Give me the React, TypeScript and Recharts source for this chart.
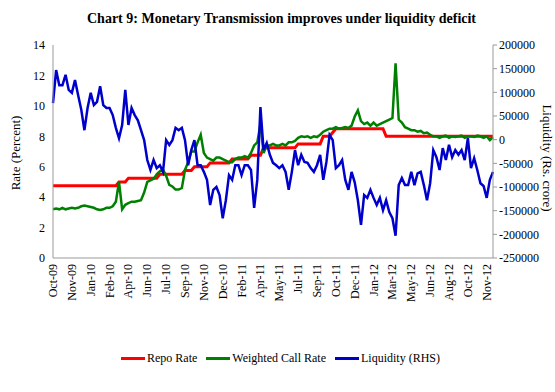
import { LineChart, Line, XAxis, YAxis } from "recharts";

const CATEGORY_LABELS = [
  "Oct-09", "Nov-09", "Jan-10", "Feb-10", "Apr-10", "Jun-10", "Jul-10", "Sep-10",
  "Nov-10", "Dec-10", "Feb-11", "Apr-11", "May-11", "Jul-11", "Sep-11", "Oct-11",
  "Dec-11", "Jan-12", "Mar-12", "May-12", "Jun-12", "Aug-12", "Oct-12", "Nov-12",
];

// repo rate, percent
const REPO_RATE = [
  4.75, 4.75, 4.75, 4.75, 4.75, 4.75, 4.75, 4.75, 4.75, 4.75, 4.75, 4.75, 4.75, 4.75, 4.75, 4.75, 4.75, 4.75, 4.75, 4.75, 4.75,
  5.0, 5.0, 5.0,
  5.25, 5.25, 5.25, 5.25, 5.25, 5.25, 5.25, 5.25, 5.25, 5.25,
  5.5, 5.5, 5.5, 5.5, 5.5, 5.5, 5.5, 5.5,
  5.75, 5.75, 5.75,
  6.0, 6.0, 6.0, 6.0, 6.0,
  6.25, 6.25, 6.25, 6.25, 6.25, 6.25, 6.25,
  6.5, 6.5, 6.5, 6.5, 6.5, 6.5,
  6.75, 6.75, 6.75, 6.75,
  7.25, 7.25, 7.25, 7.25, 7.25, 7.25, 7.25, 7.25, 7.25, 7.25, 7.25,
  7.5, 7.5, 7.5, 7.5, 7.5, 7.5, 7.5, 7.5,
  8.0, 8.0, 8.0,
  8.25,
  8.5, 8.5, 8.5, 8.5, 8.5, 8.5, 8.5, 8.5, 8.5, 8.5, 8.5, 8.5, 8.5, 8.5, 8.5, 8.5,
  8.0, 8.0, 8.0, 8.0, 8.0, 8.0, 8.0, 8.0, 8.0, 8.0, 8.0, 8.0, 8.0, 8.0, 8.0, 8.0, 8.0, 8.0,
  8.0, 8.0, 8.0, 8.0, 8.0, 8.0, 8.0, 8.0, 8.0, 8.0, 8.0, 8.0, 8.0, 8.0, 8.0, 8.0, 8.0,
];

// weighted average call rate, percent
const CALL_RATE = [
  3.2, 3.25, 3.2, 3.3, 3.2, 3.25, 3.3, 3.25, 3.3, 3.4, 3.45,
  3.4, 3.35, 3.3, 3.2, 3.15, 3.2, 3.3, 3.3, 3.4,
  3.7, 5.0, 3.2, 3.5, 3.6, 3.7, 3.7, 3.75, 3.8, 4.3,
  5.0, 5.1, 5.2, 5.5, 5.7, 5.8, 5.4, 4.8, 4.7, 4.5,
  4.5, 4.6, 5.8, 6.3, 7.0, 7.0, 7.6, 8.1, 6.9, 6.6,
  6.5, 6.4, 6.6, 6.6, 6.5, 6.4, 6.3, 6.3, 6.5, 6.6,
  6.6, 6.7, 6.6, 6.9, 7.4, 7.6, 8.8, 6.9, 7.4, 7.4,
  7.5, 7.4, 7.4, 7.5, 7.4, 7.6, 7.6, 7.7, 7.9, 8.0,
  7.95, 8.0, 7.9, 8.0, 7.95, 8.1, 8.3, 8.4, 8.5, 8.5,
  8.6, 8.5, 8.55, 8.6, 8.55, 8.7, 9.3, 9.7, 9.0, 8.8,
  8.9, 8.7, 8.9, 8.7, 8.8, 8.9, 9.0, 9.1, 9.2, 12.8,
  9.1, 8.9, 8.6, 8.5, 8.4, 8.4, 8.3, 8.35, 8.2, 8.25,
  8.1, 8.0, 8.0, 7.9, 8.0, 8.05, 7.9, 8.0, 7.95, 8.0,
  8.05, 7.9, 8.0, 8.0, 7.95, 8.05, 8.0, 7.9, 8.0, 7.75,
  7.95,
];

// liquidity, Rs. crore (right axis)
const LIQUIDITY = [
  77000, 147000, 115000, 115000, 137000, 105000, 99000, 126000, 94000, 63000,
  20000, 67000, 99000, 73000, 80000, 113000, 73000, 67000, 67000, 52000,
  25000, 3000, 31000, 105000, 31000, 67000, 52000, 41000, 20000, -1000,
  -43000, -64000, -43000, -60000, -54000, -68000, -1000, -11000, -1000, 25000,
  20000, 25000, -1000, -54000, -22000, -1000, -54000, -54000, -68000, -85000,
  -138000, -106000, -100000, -117000, -166000, -128000, -75000, -85000, -54000, -54000,
  -75000, -54000, -54000, -64000, -144000, -85000, 69000, -22000, -7000, -32000,
  -49000, -54000, -60000, -54000, -68000, -106000, -68000, -22000, -54000, -32000,
  -47000, -49000, -60000, -68000, -54000, -32000, -85000, -47000, 10000, -1000,
  -60000, -54000, -43000, -85000, -106000, -68000, -90000, -128000, -180000, -117000,
  -123000, -106000, -123000, -138000, -123000, -149000, -128000, -153000, -166000, -203000,
  -96000, -81000, -96000, -96000, -68000, -96000, -71000, -68000, -96000, -128000,
  -92000, -22000, -37000, -64000, -18000, -43000, -11000, -37000, -22000, -32000,
  -22000, -43000, 3000, -60000, -39000, -64000, -92000, -98000, -123000, -85000,
  -68000,
];

const LEFT_TICKS = [0, 2, 4, 6, 8, 10, 12, 14];
const RIGHT_TICKS = [-250000, -200000, -150000, -100000, -50000, 0, 50000, 100000, 150000, 200000];

const data = REPO_RATE.map((repo, i) => ({
  i,
  repo,
  call: CALL_RATE[i],
  liq: LIQUIDITY[i],
}));
const xTicks = CATEGORY_LABELS.map((_, k) => k * 6);

const FONT = '"Liberation Serif", "Times New Roman", serif';

const renderXTick = ({ x, y, payload }: any) => (
  <g transform={`translate(${x},${y})`}>
    <text
      x={-4}
      y={0}
      dy={4}
      textAnchor="end"
      transform="rotate(-90)"
      fontSize={12}
      fontFamily={FONT}
      fill="#000"
    >
      {CATEGORY_LABELS[Math.round(payload.value / 6)]}
    </text>
  </g>
);

const legendItems = [
  { name: "Repo Rate", color: "#ff0000" },
  { name: "Weighted Call Rate", color: "#008000" },
  { name: "Liquidity (RHS)", color: "#0000cc" },
];

export default function App() {
  return (
    <div
      style={{
        position: "absolute",
        left: 0,
        top: 0,
        width: 555,
        height: 392,
        background: "#fff",
        fontFamily: FONT,
      }}
    >
      <div
        style={{
          position: "absolute",
          left: 87,
          top: 11,
          fontSize: 14,
          fontWeight: "bold",
          whiteSpace: "nowrap",
        }}
      >
        Chart 9: Monetary Transmission improves under liquidity deficit
      </div>
      <LineChart
        width={555}
        height={392}
        data={data}
        margin={{ top: 45, right: 0, bottom: 0, left: 0 }}
      >
        <XAxis
          dataKey="i"
          type="number"
          domain={[0, 140]}
          ticks={xTicks}
          interval={0}
          tick={renderXTick}
          tickLine={false}
          tickSize={0}
          axisLine={{ stroke: "#999" }}
          height={134}
        />
        <YAxis
          yAxisId="left"
          domain={[0, 14]}
          ticks={LEFT_TICKS}
          interval={0}
          width={53}
          tickLine={false}
          axisLine={{ stroke: "#999" }}
          tick={{ fontSize: 12, fill: "#000", fontFamily: FONT }}
        />
        <YAxis
          yAxisId="right"
          orientation="right"
          domain={[-250000, 200000]}
          ticks={RIGHT_TICKS}
          interval={0}
          width={62}
          tickSize={4}
          tickLine={{ stroke: "#999" }}
          axisLine={{ stroke: "#999" }}
          tick={{ fontSize: 12, fill: "#000", fontFamily: FONT, textAnchor: "start" }}
        />
        <Line
          yAxisId="left"
          dataKey="repo"
          type="linear"
          stroke="#ff0000"
          strokeWidth={3}
          dot={false}
          isAnimationActive={false}
        />
        <Line
          yAxisId="left"
          dataKey="call"
          type="linear"
          stroke="#008000"
          strokeWidth={2.5}
          dot={false}
          isAnimationActive={false}
        />
        <Line
          yAxisId="right"
          dataKey="liq"
          type="linear"
          stroke="#0000cc"
          strokeWidth={2.5}
          dot={false}
          isAnimationActive={false}
        />
      </LineChart>
      <div
        style={{
          position: "absolute",
          left: 16,
          top: 153,
          transform: "translate(-50%, -50%) rotate(-90deg)",
          fontSize: 13,
          whiteSpace: "nowrap",
        }}
      >
        Rate (Percent)
      </div>
      <div
        style={{
          position: "absolute",
          left: 547,
          top: 158,
          transform: "translate(-50%, -50%) rotate(90deg)",
          fontSize: 13,
          whiteSpace: "nowrap",
        }}
      >
        Liquidity (Rs. crore)
      </div>
      <div
        style={{
          position: "absolute",
          left: 121,
          top: 351,
          display: "flex",
          alignItems: "center",
          fontSize: 12,
          whiteSpace: "nowrap",
        }}
      >
        {legendItems.map((it, k) => (
          <div key={it.name} style={{ display: "flex", alignItems: "center", marginRight: k < 2 ? 9 : 0 }}>
            <div style={{ width: 24, height: 3, background: it.color, marginRight: 2 }} />
            <span>{it.name}</span>
          </div>
        ))}
      </div>
    </div>
  );
}
